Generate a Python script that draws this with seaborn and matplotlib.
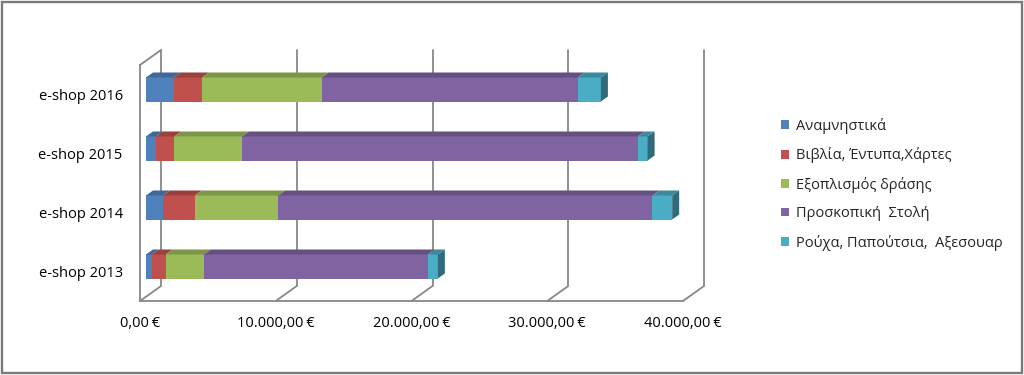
import numpy as np
import pandas as pd
import matplotlib
matplotlib.use("Agg")
import matplotlib.pyplot as plt
import seaborn as sns
from matplotlib.patches import Polygon, Patch, Rectangle
from matplotlib.ticker import FuncFormatter, FixedLocator

# ---------------- data ----------------
shops = ["e-shop 2016", "e-shop 2015", "e-shop 2014", "e-shop 2013"]
series_names = ["Αναμνηστικά", "Βιβλία, Έντυπα,Χάρτες", "Εξοπλισμός δράσης",
                "Προσκοπική  Στολή", "Ρούχα, Παπούτσια,  Αξεσουαρ"]
anamnistika = [2060, 740, 1250, 420]
vivlia = [2070, 1350, 2360, 1030]
exoplismos = [8820, 4990, 6140, 2800]
stoli = [18860, 29160, 27560, 16510]
rouxa = [1700, 710, 1450, 740]
x_ticks = [0, 10000, 20000, 30000, 40000]

colors = ["#4F81BD", "#C0504D", "#9BBB59", "#8064A2", "#4BACC6"]
frame_col = "#878787"

sns.set_theme(style="white")
plt.rcParams["font.family"] = ["Open Sans", "DejaVu Sans"]
FS = 10.5

W, H = 1024, 375
fig = plt.figure(figsize=(W / 100, H / 100), dpi=100)
fig.patch.set_facecolor("white")


def px_rect(l, t, w, h):
    return [l / W, 1 - (t + h) / H, w / W, h / H]


# layout (pixels)
X0_FRONT, TOP_FRONT, WIDTH, HEIGHT = 140, 65, 543, 236
DEPTH = (21, -15)           # front -> back wall
BAR_SHIFT = (6, -5)         # front plane -> bar front face
BAR_DEPTH = (7, -5)         # depth of bars

ax_over = fig.add_axes([0, 0, 1, 1], zorder=0)
ax_over.set_xlim(0, W)
ax_over.set_ylim(H, 0)
ax_over.axis("off")

ax_front = fig.add_axes(px_rect(X0_FRONT, TOP_FRONT, WIDTH, HEIGHT), zorder=1)
ax_front.set_facecolor("none")
ax_bars = fig.add_axes(px_rect(X0_FRONT + BAR_SHIFT[0], TOP_FRONT + BAR_SHIFT[1], WIDTH, HEIGHT),
                       zorder=2)
ax_bars.set_facecolor("none")

# ---------------- front axes (ticks and labels) ----------------
ax_front.set_xlim(0, 40000)
ax_front.set_ylim(len(shops) - 0.5, -0.5)
for s in ["top", "right"]:
    ax_front.spines[s].set_visible(False)
for s in ["left", "bottom"]:
    ax_front.spines[s].set_color(frame_col)
    ax_front.spines[s].set_linewidth(1.3)


def euro(v, pos=None):
    s = f"{v:,.2f}".replace(",", "X").replace(".", ",").replace("X", ".")
    return s + "\u202f€"


ax_front.xaxis.set_major_locator(FixedLocator(x_ticks))
ax_front.xaxis.set_major_formatter(FuncFormatter(euro))
ax_front.tick_params(axis="x", direction="inout", length=4, width=1.2, color=frame_col,
                     labelsize=FS, pad=9, labelcolor="black")
ax_front.set_yticks(range(len(shops)))
ax_front.set_yticklabels(shops)
ax_front.set_yticks(np.arange(-0.5, len(shops)), minor=True)
ax_front.tick_params(axis="y", which="major", length=0, labelsize=FS, pad=12.5, labelcolor="black")
ax_front.tick_params(axis="y", which="minor", direction="out", length=3, width=1.2, color=frame_col)
ax_front.grid(False)

# ---------------- back wall and depth lines ----------------
fig.canvas.draw()


def to_over(ax, x, y):
    dx, dy = ax.transData.transform((x, y))
    return dx, H - dy


for v in x_ticks:
    fx, fy = to_over(ax_front, v, len(shops) - 0.5)
    bx, by = fx + DEPTH[0], fy + DEPTH[1]
    ax_over.plot([fx, bx], [fy, by], color=frame_col, lw=1.3, solid_capstyle="butt")
    tx, ty = to_over(ax_front, v, -0.5)
    ax_over.plot([bx, bx], [by, ty + DEPTH[1]], color=frame_col, lw=1.3)
lx, ly = to_over(ax_front, 0, -0.5)
ax_over.plot([lx, lx + DEPTH[0]], [ly, ly + DEPTH[1]], color=frame_col, lw=1.3)

# ---------------- bars ----------------
data = np.array([anamnistika, vivlia, exoplismos, stoli, rouxa], dtype=float)
cum = np.cumsum(data, axis=0)
bar_w = 0.407
for j in range(len(series_names) - 1, -1, -1):
    df = pd.DataFrame({"shop": shops, "value": cum[j]})
    sns.barplot(data=df, x="value", y="shop", order=shops, color=colors[j], width=bar_w,
                saturation=1, linewidth=0, orient="h", ax=ax_bars)
ax_bars.set_xlim(0, 40000)
ax_bars.set_ylim(len(shops) - 0.5, -0.5)
ax_bars.axis("off")

# 3D faces (offsets converted from pixels to data units)
ddx = BAR_DEPTH[0] * 40000 / WIDTH
ddy = BAR_DEPTH[1] * len(shops) / HEIGHT


def darker(c, f):
    r, g, b = matplotlib.colors.to_rgb(c)
    return (r * f, g * f, b * f)


for i in range(len(shops)):
    top = i - bar_w / 2
    bot = i + bar_w / 2
    for j in range(len(series_names)):
        x0 = 0 if j == 0 else cum[j - 1][i]
        x1 = cum[j][i]
        ax_bars.add_patch(Polygon([(x0, top), (x1, top), (x1 + ddx, top + ddy), (x0 + ddx, top + ddy)],
                                  closed=True, facecolor=darker(colors[j], 0.8), edgecolor="none",
                                  clip_on=False))
    xe = cum[-1][i]
    ax_bars.add_patch(Polygon([(xe, top), (xe, bot), (xe + ddx, bot + ddy), (xe + ddx, top + ddy)],
                              closed=True, facecolor=darker(colors[-1], 0.62), edgecolor="none",
                              clip_on=False))

# ---------------- legend ----------------
handles = [Patch(facecolor=c, edgecolor="none") for c in colors]
fig.legend(handles, series_names, loc="upper left", bbox_to_anchor=(781 / W, 1 - 118 / H),
           frameon=False, fontsize=FS, handlelength=0.55, handleheight=0.55,
           handletextpad=0.5, labelspacing=0.92, borderaxespad=0, borderpad=0)

# ---------------- outer border ----------------
fig.add_artist(Rectangle((1.5 / W, 1.8 / H), 1 - 3.8 / W, 1 - 3.8 / H, transform=fig.transFigure,
                         fill=False, edgecolor="#7a7a7a", lw=1.7))

fig.savefig("out.png", dpi=100)
